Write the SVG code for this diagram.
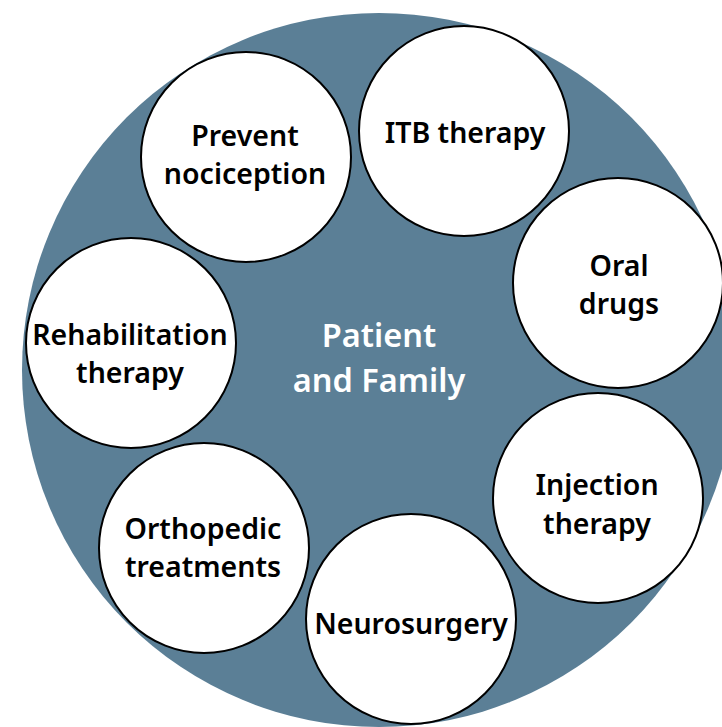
<svg xmlns="http://www.w3.org/2000/svg" width="722" height="727" viewBox="0 0 722 727">
<style>
.bg{fill:#5b7f96}
.n{fill:#fff;stroke:#000;stroke-width:2}
.t{font-family:"Noto Sans","Liberation Sans",sans-serif;font-weight:600;font-size:28.5px;fill:#000;text-anchor:middle;font-variant-ligatures:none}
.c{font-family:"Noto Sans","Liberation Sans",sans-serif;font-weight:600;font-size:32.5px;fill:#fff;text-anchor:middle;font-variant-ligatures:none}
</style>
<rect width="722" height="727" fill="#fff"/>
<g id="center">
<circle class="bg" cx="379" cy="370" r="357"/>
<text class="c" x="379" y="347">Patient</text>
<text class="c" x="379" y="392">and Family</text>
</g>
<g id="connectors"></g>
<g id="prevent"><circle class="n" cx="246" cy="157" r="105"/><text class="t" x="245" y="146">Prevent</text><text class="t" x="245" y="184">nociception</text></g>
<g id="itb"><circle class="n" cx="464" cy="131" r="105"/><text class="t" x="465" y="143">ITB therapy</text></g>
<g id="oral"><circle class="n" cx="618" cy="283" r="105"/><text class="t" x="619" y="276">Oral</text><text class="t" x="619" y="314">drugs</text></g>
<g id="rehab"><circle class="n" cx="131" cy="343" r="105"/><text class="t" x="130" y="345">Rehabilitation</text><text class="t" x="130" y="383">therapy</text></g>
<g id="injection"><circle class="n" cx="598" cy="498" r="105"/><text class="t" x="597" y="495">Injection</text><text class="t" x="597" y="534">therapy</text></g>
<g id="ortho"><circle class="n" cx="204" cy="548" r="105"/><text class="t" x="203" y="539">Orthopedic</text><text class="t" x="203" y="577">treatments</text></g>
<g id="neuro"><circle class="n" cx="411" cy="619" r="105"/><text class="t" x="411" y="634">Neurosurgery</text></g>
</svg>
